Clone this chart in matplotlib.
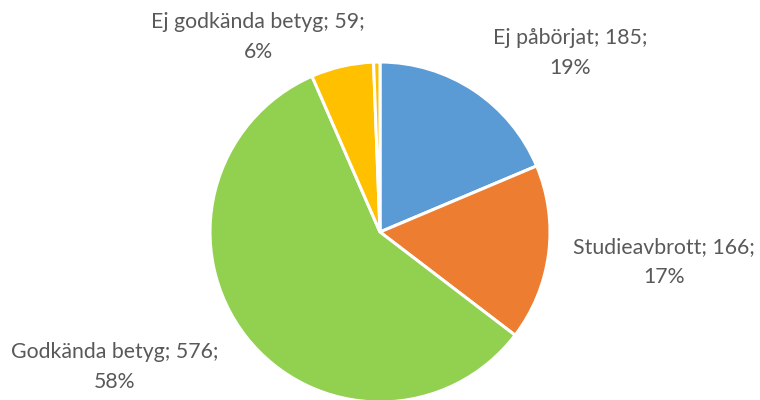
import matplotlib
matplotlib.use("Agg")
import matplotlib.pyplot as plt

categories = ["Ej påbörjat", "Studieavbrott", "Godkända betyg", "Ej godkända betyg", ""]
values = [185, 166, 576, 59, 6]
percent_labels = ["19%", "17%", "58%", "6%", ""]
colors = ["#5B9BD5", "#ED7D31", "#92D050", "#FFC000", "#FFC000"]

plt.rcParams['font.family'] = ['Lato', 'DejaVu Sans']

fig = plt.figure(figsize=(7.6, 4.0), dpi=100)
ax = fig.add_axes([(380 - 170) / 760, (168 - 170) / 400, 340 / 760, 340 / 400])
wedges, _ = ax.pie(values, colors=colors, startangle=90, counterclock=False,
                   radius=1.0, wedgeprops=dict(edgecolor="white", linewidth=2.2))
ax.set_xlim(-1, 1)
ax.set_ylim(-1, 1)
ax.set_aspect("equal")
ax.axis("off")

# label positions (figure pixels, from top-left) for the first four slices
label_pos = [(570, 53), (664, 262), (115, 367), (258, 37)]
for (name, val, pct, (px, py)) in zip(categories[:4], values[:4], percent_labels[:4], label_pos):
    fig.text(px / 760, 1 - py / 400, f"{name}; {val};\n{pct}", ha="center", va="center",
             fontsize=15.3, color="#595959", linespacing=1.6)

fig.savefig("out.png", dpi=100)
